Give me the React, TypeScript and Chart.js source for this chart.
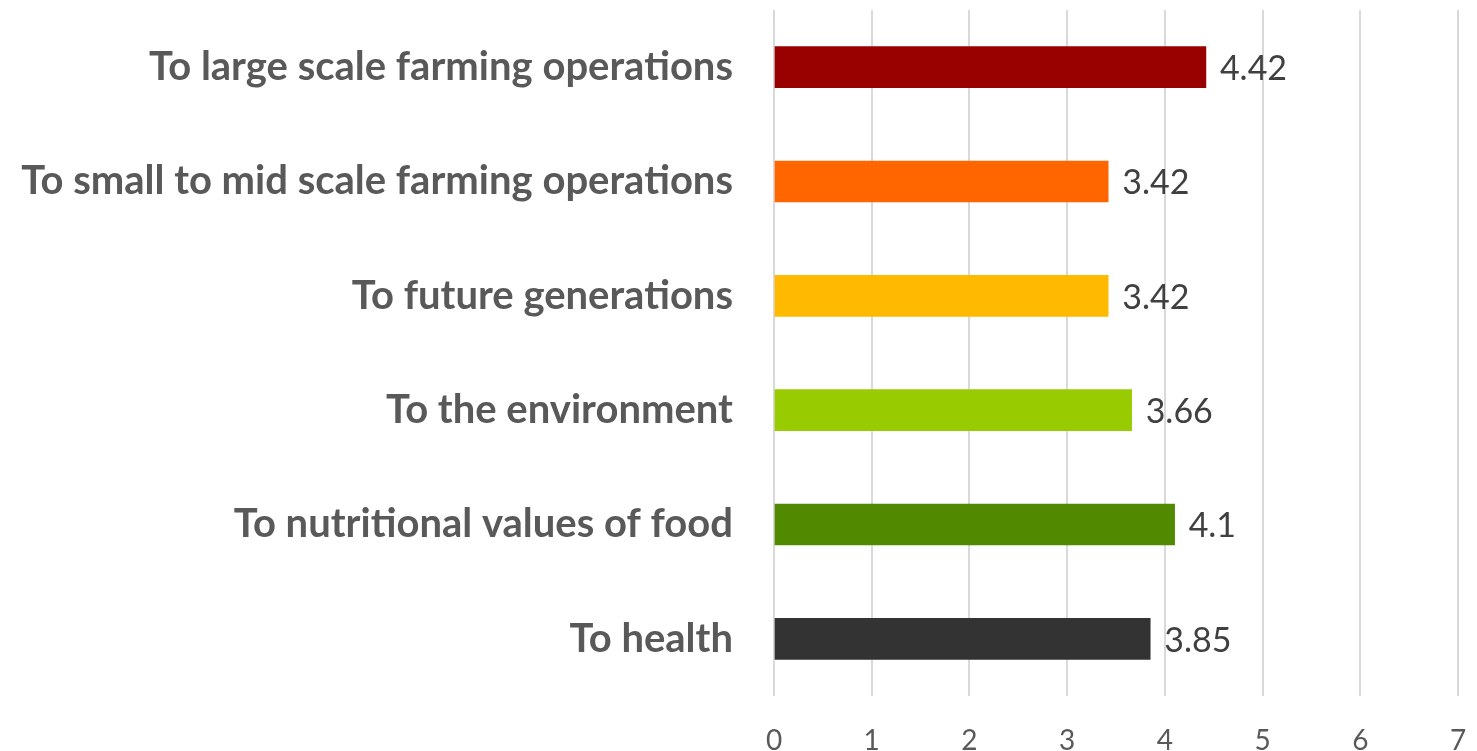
import React, { useEffect, useRef } from "react";
import { Chart, registerables } from "chart.js";

Chart.register(...registerables);

const categories = [
  "To large scale farming operations",
  "To small to mid scale farming operations",
  "To future generations",
  "To the environment",
  "To nutritional values of food",
  "To health",
];
const values = [4.42, 3.42, 3.42, 3.66, 4.1, 3.85];
const barColors = ["#990000", "#FF6600", "#FFBA00", "#99CC00", "#518A00", "#333333"];
const xTicks = [0, 1, 2, 3, 4, 5, 6, 7];

const FONT = "Lato";

const valueLabels = {
  id: "valueLabels",
  afterDatasetsDraw(chart: any) {
    const ctx = chart.ctx;
    const meta = chart.getDatasetMeta(0);
    ctx.save();
    ctx.font = `34px ${FONT}`;
    ctx.fillStyle = "#404040";
    ctx.textAlign = "left";
    ctx.textBaseline = "middle";
    meta.data.forEach((el: any, i: number) => {
      ctx.fillText(String(values[i]), el.x + 14, el.y + 2);
    });
    ctx.restore();
  },
};

export default function App() {
  const ref = useRef<HTMLCanvasElement | null>(null);
  useEffect(() => {
    if (!ref.current) return;
    const chart = new Chart(ref.current, {
      type: "bar",
      data: {
        labels: categories,
        datasets: [
          {
            data: values,
            backgroundColor: barColors,
            barThickness: 41,
          },
        ],
      },
      options: {
        indexAxis: "y",
        animation: false,
        responsive: false,
        layout: { padding: { top: 10, right: 19, left: 0, bottom: 0 } },
        plugins: { legend: { display: false }, tooltip: { enabled: false } },
        scales: {
          x: {
            min: 0,
            max: 7,
            afterBuildTicks(scale: any) {
              scale.ticks = xTicks.map((v) => ({ value: v }));
            },
            afterFit(scale: any) {
              scale.height = 55;
              scale.paddingLeft = 0;
              scale.paddingRight = 0;
            },
            grid: { color: "#d9d9d9", lineWidth: 2, drawTicks: false },
            border: { display: false },
            ticks: {
              color: "#595959",
              font: { family: FONT, size: 28 },
              padding: 28,
            },
          },
          y: {
            afterFit(scale: any) {
              scale.width = 774;
              scale.paddingTop = 0;
              scale.paddingBottom = 0;
            },
            grid: { display: false, drawTicks: false },
            border: { display: false },
            ticks: {
              color: "#595959",
              font: { family: FONT, size: 40, weight: "bold" },
              padding: 41,
            },
          },
        },
      },
      plugins: [valueLabels],
    });
    return () => chart.destroy();
  }, []);
  return (
    <div style={{ position: "fixed", left: 0, top: 0, width: 1477, height: 751, background: "#fff" }}>
      <canvas ref={ref} width={1477} height={751} />
    </div>
  );
}
